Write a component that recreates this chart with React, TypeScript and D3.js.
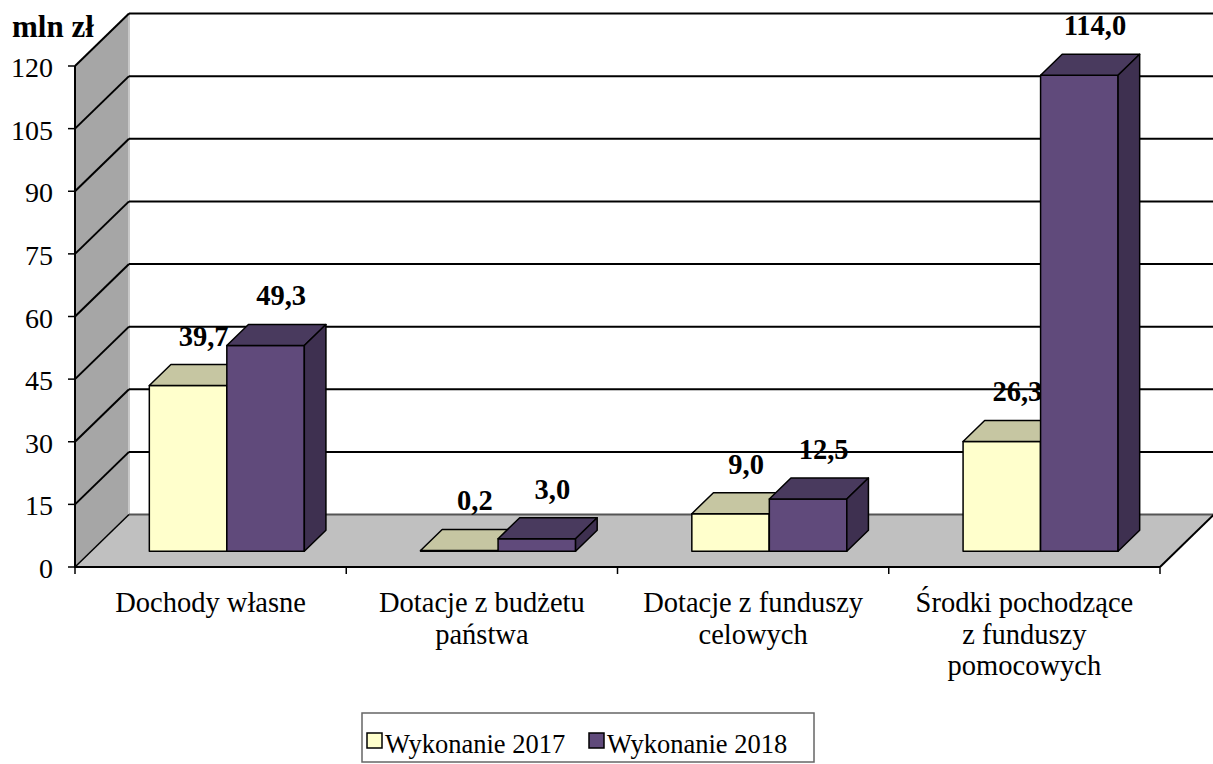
import * as d3 from 'd3';

const categories = ['Dochody własne', 'Dotacje z budżetu państwa', 'Dotacje z funduszy celowych', 'Środki pochodzące z funduszy pomocowych'];
const categoryLines = [['Dochody własne'], ['Dotacje z budżetu', 'państwa'], ['Dotacje z funduszy', 'celowych'], ['Środki pochodzące', 'z funduszy', 'pomocowych']];
const seriesNames = ['Wykonanie 2017', 'Wykonanie 2018'];
const values2017 = [39.7, 0.2, 9.0, 26.3];
const values2018 = [49.3, 3.0, 12.5, 114.0];
const yTicks = [0, 15, 30, 45, 60, 75, 90, 105, 120];

const W = 1213;
const H = 764;
const DX = 54;
const DY = 52.5;
const F1 = 0.3;
const F2 = 0.7;
const FONT = "'Times New Roman', 'Liberation Serif', 'DejaVu Serif', serif";

const colors = [
  { front: '#FFFFCC', top: '#C6C6A2', side: '#A8A88A' },
  { front: '#604A7B', top: '#493A5E', side: '#3E3050' },
];

const fmt = (v: number) => v.toFixed(1).replace('.', ',');

export default function App() {
  const x = d3.scaleBand<string>().domain(categories).range([75, 1160]);
  const y = d3.scaleLinear().domain([0, 120]).range([567, 66]);
  const inner = d3.scaleBand<number>().domain([0, 1]).range([-77.5, 77.5]);
  const series = [values2017, values2018];

  const pt = (px: number, py: number, f: number) => `${px + f * DX},${py - f * DY}`;

  const y0 = y(0);
  const bars: JSX.Element[] = [];
  categories.forEach((c, ci) => {
    const cx = (x(c) as number) + x.bandwidth() / 2;
    series.forEach((vals, si) => {
      const v = vals[ci];
      const x0 = cx + (inner(si) as number);
      const x1 = x0 + inner.bandwidth();
      const yt = y(v);
      const col = colors[si];
      const front = [pt(x0, y0, F1), pt(x1, y0, F1), pt(x1, yt, F1), pt(x0, yt, F1)].join(' ');
      const top = [pt(x0, yt, F1), pt(x1, yt, F1), pt(x1, yt, F2), pt(x0, yt, F2)].join(' ');
      const side = [pt(x1, y0, F1), pt(x1, y0, F2), pt(x1, yt, F2), pt(x1, yt, F1)].join(' ');
      const lx = (x0 + x1) / 2 + F2 * DX - 6;
      const ly = yt - F2 * DY - 19;
      bars.push(
        <g key={`${ci}-${si}`} stroke="#000" strokeWidth={1.5} strokeLinejoin="round">
          <polygon points={front} fill={col.front} />
          <polygon points={top} fill={col.top} />
          <polygon points={side} fill={col.side} />
          <text x={lx} y={ly} textAnchor="middle" stroke="none" fill="#000"
            fontSize={28.5} fontWeight="bold">{fmt(v)}</text>
        </g>
      );
    });
  });

  const bx0 = 75 + DX;
  const bx1 = 1160 + DX;

  return (
    <svg width={W} height={H} style={{ position: 'absolute', left: 0, top: 0, background: '#fff', fontFamily: FONT }}>
      {/* side wall */}
      <polygon points={`75,${y0} 75,${y(120)} ${bx0},${y(120) - DY} ${bx0},${y0 - DY}`} fill="#A6A6A6" />
      <line x1={bx0} y1={y(120) - DY} x2={bx0} y2={y0 - DY} stroke="#C8C8C8" strokeWidth={2} />
      {/* floor */}
      <polygon points={`75,${y0} 1160,${y0} ${bx1},${y0 - DY} ${bx0},${y0 - DY}`} fill="#C0C0C0" />
      {/* gridlines */}
      {yTicks.map((t) => (
        <g key={t}>
          <line x1={bx0} x2={bx1} y1={y(t) - DY} y2={y(t) - DY} stroke={t === 0 ? '#555' : '#000'} strokeWidth={2} />
          {t > 0 && <line x1={75} y1={y(t)} x2={bx0} y2={y(t) - DY} stroke="#000" strokeWidth={2} />}
        </g>
      ))}
      <line x1={75} y1={y0} x2={bx0} y2={y0 - DY} stroke="#000" strokeWidth={1.5} />
      <line x1={1160} y1={y0} x2={bx1} y2={y0 - DY} stroke="#000" strokeWidth={2} />
      {/* axes */}
      <line x1={75} y1={y(120)} x2={75} y2={y0} stroke="#000" strokeWidth={2} />
      <line x1={74} y1={y0} x2={1160} y2={y0} stroke="#000" strokeWidth={2} />
      {yTicks.map((t) => (
        <g key={`yt${t}`}>
          <line x1={68} x2={75} y1={y(t)} y2={y(t)} stroke="#000" strokeWidth={1.5} />
          <text x={53} y={y(t) + 11} textAnchor="end" fontSize={28} fill="#000">{t}</text>
        </g>
      ))}
      {[...categories.map((c) => x(c) as number), 1160].map((tx, i) => (
        <line key={`xt${i}`} x1={tx} x2={tx} y1={y0} y2={y0 + 7} stroke="#000" strokeWidth={1.5} />
      ))}
      {categories.map((c, ci) => (
        <text key={c} x={(x(c) as number) + x.bandwidth() / 2} y={612} textAnchor="middle"
          fontSize={28.5} fill="#000">
          {categoryLines[ci].map((ln, li) => (
            <tspan key={li} x={(x(c) as number) + x.bandwidth() / 2} dy={li === 0 ? 0 : 31.5}>{ln}</tspan>
          ))}
        </text>
      ))}
      {/* bars */}
      {bars}
      <text x={12} y={37} fontSize={31} fontWeight="bold" fill="#000">mln zł</text>
      {/* legend */}
      <rect x={362} y={713} width={452} height={49} fill="#fff" stroke="#666" strokeWidth={1.5} />
      {seriesNames.map((s, i) => {
        const lx = i === 0 ? 367 : 589;
        return (
          <g key={s}>
            <rect x={lx} y={733} width={15} height={15} fill={colors[i].front} stroke="#000" strokeWidth={1.5} />
            <text x={lx + 18} y={753} fontSize={26.5} fill="#000">{s}</text>
          </g>
        );
      })}
    </svg>
  );
}
